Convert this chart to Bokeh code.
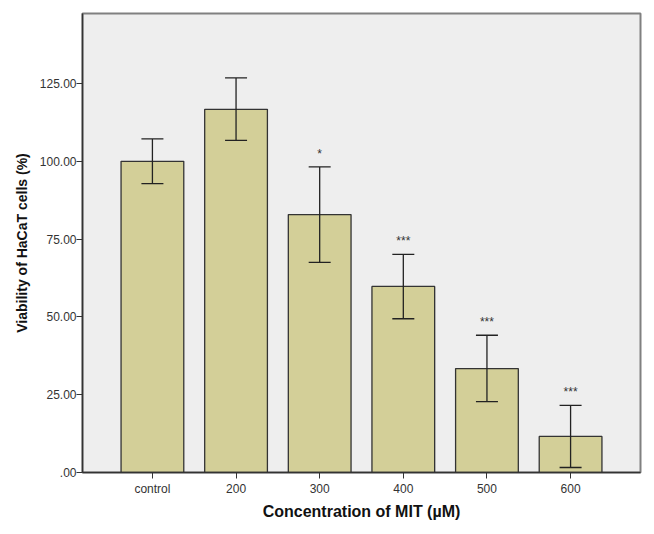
from bokeh.plotting import figure
from bokeh.models import ColumnDataSource, Range1d, FixedTicker, Whisker, TeeHead
from bokeh.embed import file_html
from bokeh.resources import INLINE
from bokeh.core.properties import value

categories = ["control", "200", "300", "400", "500", "600"]
means = [100.0, 116.7, 82.9, 59.8, 33.4, 11.6]
upper = [107.2, 126.8, 98.2, 70.1, 44.1, 21.6]
lower = [92.8, 106.7, 67.5, 49.4, 22.8, 1.6]
stars = ["", "", "*", "***", "***", "***"]
y_ticks = [0, 25, 50, 75, 100, 125]
y_tick_labels = [".00", "25.00", "50.00", "75.00", "100.00", "125.00"]

xs = list(range(1, len(categories) + 1))
src = ColumnDataSource(dict(x=xs, top=means, upper=upper, lower=lower,
                            stars=stars, star_y=[u + 2.0 for u in upper]))

p = figure(width=648, height=522, output_backend="svg", toolbar_location=None,
           x_range=Range1d(0.164, 6.836), y_range=Range1d(0, 147.5),
           min_border_left=82, min_border_right=8, min_border_top=13, min_border_bottom=10)

p.background_fill_color = "#eeeeee"
p.border_fill_color = "white"
p.outline_line_color = "#808080"
p.outline_line_width = 2
p.grid.visible = False

p.vbar(x="x", top="top", width=0.75, bottom=0, source=src,
       fill_color="#d3cf98", line_color="#333333", line_width=1.3)

w = Whisker(base="x", upper="upper", lower="lower", source=src, level="overlay",
            line_color="#222222", line_width=1.3,
            upper_head=TeeHead(size=22, line_color="#222222", line_width=1.3),
            lower_head=TeeHead(size=22, line_color="#222222", line_width=1.3))
p.add_layout(w)

p.text(x="x", y="star_y", text="stars", source=src, text_align="center",
       text_baseline="bottom", text_font=value("Liberation Sans"),
       text_font_size="12px", text_color="#333333")

p.xaxis.ticker = FixedTicker(ticks=xs)
p.xaxis.major_label_overrides = {x: c for x, c in zip(xs, categories)}
p.yaxis.ticker = FixedTicker(ticks=y_ticks)
p.yaxis.major_label_overrides = {t: l for t, l in zip(y_ticks, y_tick_labels)}

for ax in (p.xaxis, p.yaxis):
    ax.minor_tick_line_color = None
    ax.major_tick_in = 0
    ax.major_tick_out = 6
    ax.major_tick_line_color = "#333333"
    ax.axis_line_color = "#333333"
    ax.axis_line_width = 1.5
    ax.major_label_text_font = "Liberation Sans"
    ax.major_label_text_font_size = "12px"
    ax.major_label_text_color = "#333333"
    ax.axis_label_text_font = "Liberation Sans"
    ax.axis_label_text_font_style = "bold"
    ax.axis_label_text_color = "#111111"

p.xaxis.axis_label_text_font_size = "16px"
p.yaxis.axis_label_text_font_size = "14px"
p.xaxis.axis_label = "Concentration of MIT (µM)"
p.yaxis.axis_label = "Viability of HaCaT cells (%)"
p.xaxis.major_label_standoff = 3
p.yaxis.major_label_standoff = 0
p.xaxis.axis_label_standoff = 4
p.yaxis.axis_label_standoff = 7

open("out.html", "w").write(file_html(p, INLINE))
